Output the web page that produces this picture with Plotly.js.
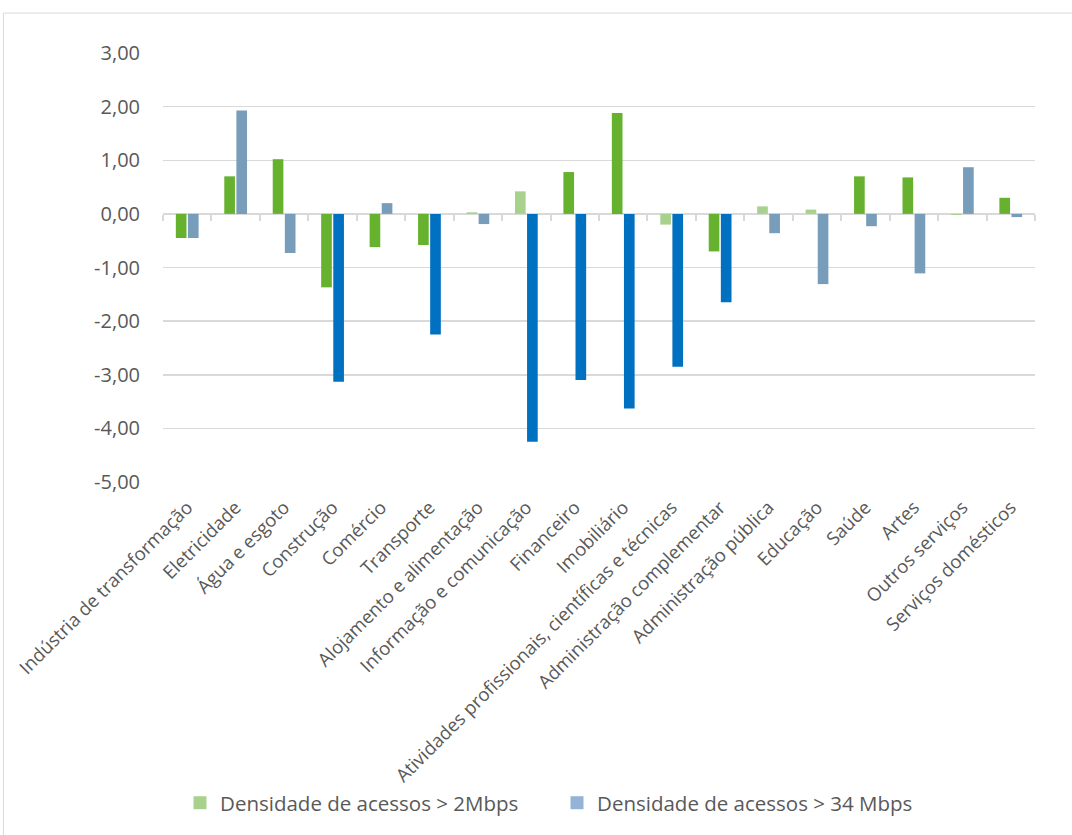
<!DOCTYPE html>
<html>
<head>
<meta charset="utf-8">
<script src="https://cdn.plot.ly/plotly-3.0.1.min.js"></script>
<style>
  html, body { margin: 0; padding: 0; background: #ffffff; }
  #chart { width: 1072px; height: 835px; }
</style>
</head>
<body>
<div id="chart"></div>
<script>
// ---- Data ----
const categories = [
  "Indústria de transformação",
  "Eletricidade",
  "Água e esgoto",
  "Construção",
  "Comércio",
  "Transporte",
  "Alojamento e alimentação",
  "Informação e comunicação",
  "Financeiro",
  "Imobiliário",
  "Atividades profissionais, científicas e técnicas",
  "Administração complementar",
  "Administração pública",
  "Educação",
  "Saúde",
  "Artes",
  "Outros serviços",
  "Serviços domésticos"
];

const seriesNames = ["Densidade de acessos > 2Mbps", "Densidade de acessos > 34 Mbps"];

const values2Mbps = [-0.45, 0.70, 1.02, -1.37, -0.62, -0.58, 0.03, 0.42, 0.78, 1.88, -0.20, -0.70, 0.14, 0.08, 0.70, 0.68, -0.02, 0.30];
const values34Mbps = [-0.45, 1.93, -0.73, -3.13, 0.20, -2.25, -0.19, -4.25, -3.10, -3.63, -2.85, -1.65, -0.36, -1.31, -0.23, -1.11, 0.87, -0.06];

// 1 = significant (strong colour), 0 = not significant (pale colour)
const significant2Mbps = [1, 1, 1, 1, 1, 1, 0, 0, 1, 1, 0, 1, 0, 0, 1, 1, 0, 1];
const significant34Mbps = [0, 0, 0, 1, 0, 1, 0, 1, 1, 1, 1, 1, 0, 0, 0, 0, 0, 0];

const yTickVals = [3, 2, 1, 0, -1, -2, -3, -4, -5];
const yTickText = ["3,00", "2,00", "1,00", "0,00", "-1,00", "-2,00", "-3,00", "-4,00", "-5,00"];

// ---- Styles ----
const GREEN_STRONG = "#66B22E";
const GREEN_PALE = "#A9D18E";
const BLUE_STRONG = "#0070C0";
const BLUE_PALE = "#779DBB";
const LEGEND_GREEN = "#A9D18E";
const LEGEND_BLUE = "#95B3D7";
const TEXT = "#595959";
const GRID = "#d9d9d9";
const FONT = "Open Sans, Noto Sans, sans-serif";

const boundaries = categories.map((c, i) => i - 0.5).concat([categories.length - 0.5]);

const traces = [
  {
    type: "bar",
    name: seriesNames[0],
    x: categories,
    y: values2Mbps,
    marker: { color: significant2Mbps.map(s => s ? GREEN_STRONG : GREEN_PALE) },
    showlegend: false,
    hoverinfo: "x+y"
  },
  {
    type: "bar",
    name: seriesNames[1],
    x: categories,
    y: values34Mbps,
    marker: { color: significant34Mbps.map(s => s ? BLUE_STRONG : BLUE_PALE) },
    showlegend: false,
    hoverinfo: "x+y"
  },
  // legend entries
  {
    type: "scatter", mode: "markers", name: seriesNames[0],
    x: [null], y: [null], xaxis: "x2", yaxis: "y",
    marker: { symbol: "square", size: 13, color: LEGEND_GREEN },
    hoverinfo: "skip"
  },
  {
    type: "scatter", mode: "markers", name: seriesNames[1],
    x: [null], y: [null], xaxis: "x2", yaxis: "y",
    marker: { symbol: "square", size: 13, color: LEGEND_BLUE },
    hoverinfo: "skip"
  }
];

const layout = {
  width: 1072,
  height: 835,
  paper_bgcolor: "#ffffff",
  plot_bgcolor: "#ffffff",
  font: { family: FONT, color: TEXT, size: 18 },
  margin: { l: 163, r: 37, t: 53, b: 353, pad: 0 },
  barmode: "group",
  bargap: 0.5,
  bargroupgap: 0.12,
  showlegend: true,
  legend: {
    orientation: "h",
    x: 0.0195, xanchor: "left",
    y: -0.748, yanchor: "middle",
    font: { family: FONT, size: 20.5, color: TEXT },
    itemclick: false,
    entrywidth: 332,
    entrywidthmode: "pixels",
    bgcolor: "rgba(0,0,0,0)",
    traceorder: "normal"
  },
  xaxis: {
    type: "category",
    range: [-0.5, categories.length - 0.5],
    showgrid: false,
    showline: false,
    zeroline: false,
    ticks: "",
    tickangle: -45,
    tickfont: { family: FONT, size: 18.5, color: TEXT },
    ticklabelstandoff: 10,
    automargin: false
  },
  xaxis2: {
    overlaying: "x",
    anchor: "free",
    position: 0.625,
    side: "bottom",
    type: "linear",
    range: [-0.5, categories.length - 0.5],
    showgrid: false,
    zeroline: false,
    showline: true,
    linecolor: GRID,
    linewidth: 2,
    ticks: "outside",
    ticklen: 6,
    tickwidth: 2,
    tickcolor: GRID,
    tickmode: "array",
    tickvals: boundaries,
    showticklabels: false,
    layer: "below traces",
    fixedrange: true
  },
  yaxis: {
    range: [-5, 3],
    tickmode: "array",
    tickvals: yTickVals,
    ticktext: yTickText,
    showgrid: true,
    gridcolor: GRID,
    gridwidth: 1.5,
    zeroline: false,
    showline: false,
    ticks: "",
    ticklabelstandoff: 22,
    tickfont: { family: FONT, size: 20, color: TEXT },
    automargin: false
  },
  shapes: [
    {
      type: "rect", xref: "paper", yref: "paper",
      x0: -0.183, x1: 1.2, y0: -1.2, y1: 1.093,
      line: { color: GRID, width: 1 },
      fillcolor: "rgba(0,0,0,0)",
      layer: "below"
    }
  ]
};

Plotly.newPlot("chart", traces, layout, { displayModeBar: false, staticPlot: true });
</script>
</body>
</html>
